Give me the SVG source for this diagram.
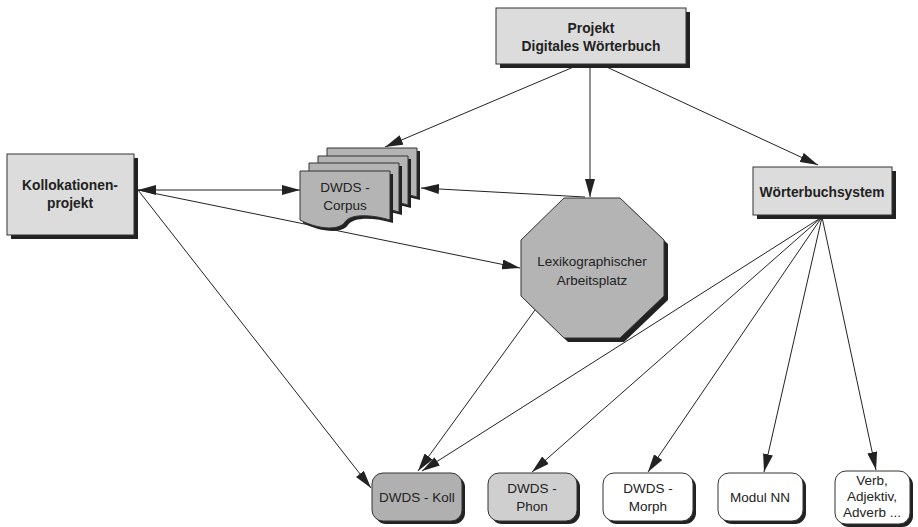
<svg xmlns="http://www.w3.org/2000/svg" width="918" height="527" viewBox="0 0 918 527">
<defs>
<marker id="ah" viewBox="0 0 18 10" refX="18" refY="5" markerWidth="18" markerHeight="10" markerUnits="userSpaceOnUse" orient="auto-start-reverse">
<path d="M0,0 L18,5 L0,10 Z" fill="#222"/>
</marker>
<style>
.box{fill:#dcdcdc;stroke:#333;stroke-width:1}
.sh{fill:#222}
.bt{font-family:"Liberation Sans",Arial,sans-serif;font-weight:bold;font-size:13.8px;fill:#222;text-anchor:middle}
.t{font-family:"Liberation Sans",Arial,sans-serif;font-size:13.5px;fill:#222;text-anchor:middle}
.ln{stroke:#222;stroke-width:1;fill:none}
.page{fill:#b4b4b4;stroke:#333;stroke-width:1}
</style>
</defs>
<rect width="918" height="527" fill="#fff"/>

<g id="connectors">
<line class="ln" x1="583" y1="63" x2="385" y2="147" marker-end="url(#ah)"/>
<line class="ln" x1="590" y1="63" x2="590" y2="197" marker-end="url(#ah)"/>
<line class="ln" x1="598" y1="63" x2="818" y2="165" marker-end="url(#ah)"/>
<line class="ln" x1="138" y1="190" x2="300" y2="190" stroke-width="2" marker-start="url(#ah)" marker-end="url(#ah)"/>
<line class="ln" x1="585" y1="197" x2="421" y2="188" marker-end="url(#ah)"/>
<line class="ln" x1="138" y1="190" x2="520" y2="268" marker-end="url(#ah)"/>
<line class="ln" x1="138" y1="190" x2="371" y2="488" marker-end="url(#ah)"/>
<line class="ln" x1="535" y1="310" x2="418" y2="471" marker-end="url(#ah)"/>
<line class="ln" x1="822" y1="217" x2="422" y2="471" marker-end="url(#ah)"/>
<line class="ln" x1="822" y1="217" x2="532" y2="472" marker-end="url(#ah)"/>
<line class="ln" x1="822" y1="217" x2="648" y2="472" marker-end="url(#ah)"/>
<line class="ln" x1="822" y1="217" x2="764" y2="472" marker-end="url(#ah)"/>
<line class="ln" x1="822" y1="217" x2="876" y2="470" marker-end="url(#ah)"/>
</g>

<g id="projekt">
<rect class="sh" x="500" y="12" width="190" height="56"/>
<rect class="box" x="496" y="8" width="190" height="56"/>
<text class="bt" x="591" y="33">Projekt</text>
<text class="bt" x="591" y="51">Digitales Wörterbuch</text>
</g>

<g id="kollokationenprojekt">
<rect class="sh" x="11" y="158" width="127" height="81"/>
<rect class="box" x="7" y="154" width="127" height="81"/>
<text class="bt" x="70" y="190">Kollokationen-</text>
<text class="bt" x="70" y="208">projekt</text>
</g>

<g id="corpus">
<g transform="translate(27,-23)">
<path class="sh" d="M303,174 H393 V223 C373,217 353,217 348,225 C341,235 318,231 303,223 Z"/>
<path class="page" d="M300,171 H390 V220 C370,214 350,214 345,222 C338,232 315,228 300,220 Z"/>
</g>
<g transform="translate(18,-15)">
<path class="sh" d="M303,174 H393 V223 C373,217 353,217 348,225 C341,235 318,231 303,223 Z"/>
<path class="page" d="M300,171 H390 V220 C370,214 350,214 345,222 C338,232 315,228 300,220 Z"/>
</g>
<g transform="translate(9,-8)">
<path class="sh" d="M303,174 H393 V223 C373,217 353,217 348,225 C341,235 318,231 303,223 Z"/>
<path class="page" d="M300,171 H390 V220 C370,214 350,214 345,222 C338,232 315,228 300,220 Z"/>
</g>
<path class="sh" d="M303,174 H393 V223 C373,217 353,217 348,225 C341,235 318,231 303,223 Z"/>
<path class="page" d="M300,171 H390 V220 C370,214 350,214 345,222 C338,232 315,228 300,220 Z"/>
<text class="t" x="345" y="192">DWDS -</text>
<text class="t" x="345" y="210">Corpus</text>
</g>

<g id="arbeitsplatz">
<polygon class="sh" points="568,202 624,202 668,244 668,300 624,342 568,342 525,300 525,244"/>
<polygon class="page" points="564,198 620,198 664,240 664,296 620,338 564,338 521,296 521,240"/>
<text class="t" x="592" y="266">Lexikographischer</text>
<text class="t" x="592" y="285">Arbeitsplatz</text>
</g>

<g id="woerterbuchsystem">
<rect class="sh" x="757" y="171" width="139" height="48"/>
<rect class="box" x="753" y="167" width="139" height="48"/>
<text class="bt" x="822" y="197">Wörterbuchsystem</text>
</g>

<g id="koll">
<rect class="sh" x="375" y="476" width="90" height="48" rx="11"/>
<rect x="372" y="473" width="90" height="48" rx="11" fill="#b0b0b0" stroke="#333"/>
<text class="t" x="417" y="502">DWDS - Koll</text>
</g>

<g id="phon">
<rect class="sh" x="491" y="476" width="89" height="48" rx="11"/>
<rect x="488" y="473" width="89" height="48" rx="11" fill="#cfcfcf" stroke="#333"/>
<text class="t" x="532" y="493">DWDS -</text>
<text class="t" x="532" y="511">Phon</text>
</g>

<g id="morph">
<rect class="sh" x="606" y="476" width="90" height="48" rx="11"/>
<rect x="603" y="473" width="90" height="48" rx="11" fill="#fff" stroke="#333"/>
<text class="t" x="648" y="493">DWDS -</text>
<text class="t" x="648" y="511">Morph</text>
</g>

<g id="modulnn">
<rect class="sh" x="721" y="476" width="85" height="48" rx="11"/>
<rect x="718" y="473" width="85" height="48" rx="11" fill="#fff" stroke="#333"/>
<text class="t" x="760" y="502">Modul NN</text>
</g>

<g id="verb">
<rect class="sh" x="838" y="474" width="75" height="53" rx="11"/>
<rect x="835" y="471" width="75" height="53" rx="11" fill="#fff" stroke="#333"/>
<text class="t" x="872" y="485">Verb,</text>
<text class="t" x="872" y="501">Adjektiv,</text>
<text class="t" x="872" y="517">Adverb ...</text>
</g>
</svg>
